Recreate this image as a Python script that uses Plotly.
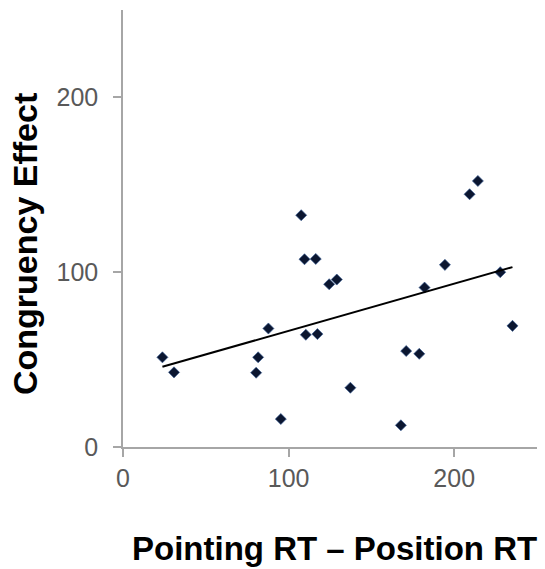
import numpy as np
import plotly.graph_objects as go

# Data
pointing_minus_position = [23.8, 30.8, 87.8, 81.6, 80.4, 110.4, 117.4, 95.3, 137.3, 171.0,
                           178.9, 167.8, 235.2, 107.6, 109.6, 116.4, 124.5, 129.1, 182.1,
                           194.4, 227.8, 209.3, 214.3]
congruency_effect = [51.3, 42.7, 67.8, 51.3, 42.5, 64.2, 64.6, 16.0, 33.9, 54.9,
                     53.3, 12.4, 69.3, 132.6, 107.4, 107.6, 93.1, 95.8, 91.2,
                     104.2, 100.0, 144.6, 152.2]
tick_values = [0, 100, 200]
x_title = "Pointing RT – Position RT"
y_title = "Congruency Effect"

x = np.array(pointing_minus_position)
y = np.array(congruency_effect)
slope, intercept = np.polyfit(x, y, 1)
fit_x = np.array([x.min(), x.max()])
fit_y = slope * fit_x + intercept

fig = go.Figure()
fig.add_trace(go.Scatter(
    x=x, y=y, mode="markers",
    marker=dict(symbol="diamond", size=8.5, color="#0b1630",
                line=dict(color="rgba(60,95,150,0.85)", width=0.8)),
    showlegend=False,
))
fig.add_trace(go.Scatter(
    x=fit_x, y=fit_y, mode="lines",
    line=dict(color="black", width=2),
    showlegend=False,
))

axis_common = dict(
    showgrid=False, zeroline=False, showline=True,
    linecolor="#a6a6a6", linewidth=1.5,
    ticks="outside", ticklen=8, tickwidth=1.5, tickcolor="#a6a6a6",
    tickvals=tick_values,
    tickfont=dict(family="Liberation Sans, Arial, sans-serif", size=25, color="#595959"),
)
fig.update_xaxes(range=[0, 250], **axis_common)
fig.update_yaxes(range=[0, 250], ticklabelstandoff=10, **axis_common)

fig.add_annotation(
    text=y_title, textangle=-90, xref="paper", yref="paper",
    x=-0.2367, y=0.4645, xanchor="center", yanchor="middle", showarrow=False,
    font=dict(family="Liberation Sans, Arial, sans-serif", size=34, color="black", weight="bold"),
)
fig.add_annotation(
    text=x_title, xref="paper", yref="paper",
    x=0.512, y=-0.2334, xanchor="center", yanchor="middle", showarrow=False,
    font=dict(family="Liberation Sans, Arial, sans-serif", size=33, color="black", weight="bold"),
)

fig.update_layout(
    width=545, height=569,
    margin=dict(l=123, r=8, t=10, b=122),
    plot_bgcolor="white", paper_bgcolor="white",
)

fig.write_html("out.html")
